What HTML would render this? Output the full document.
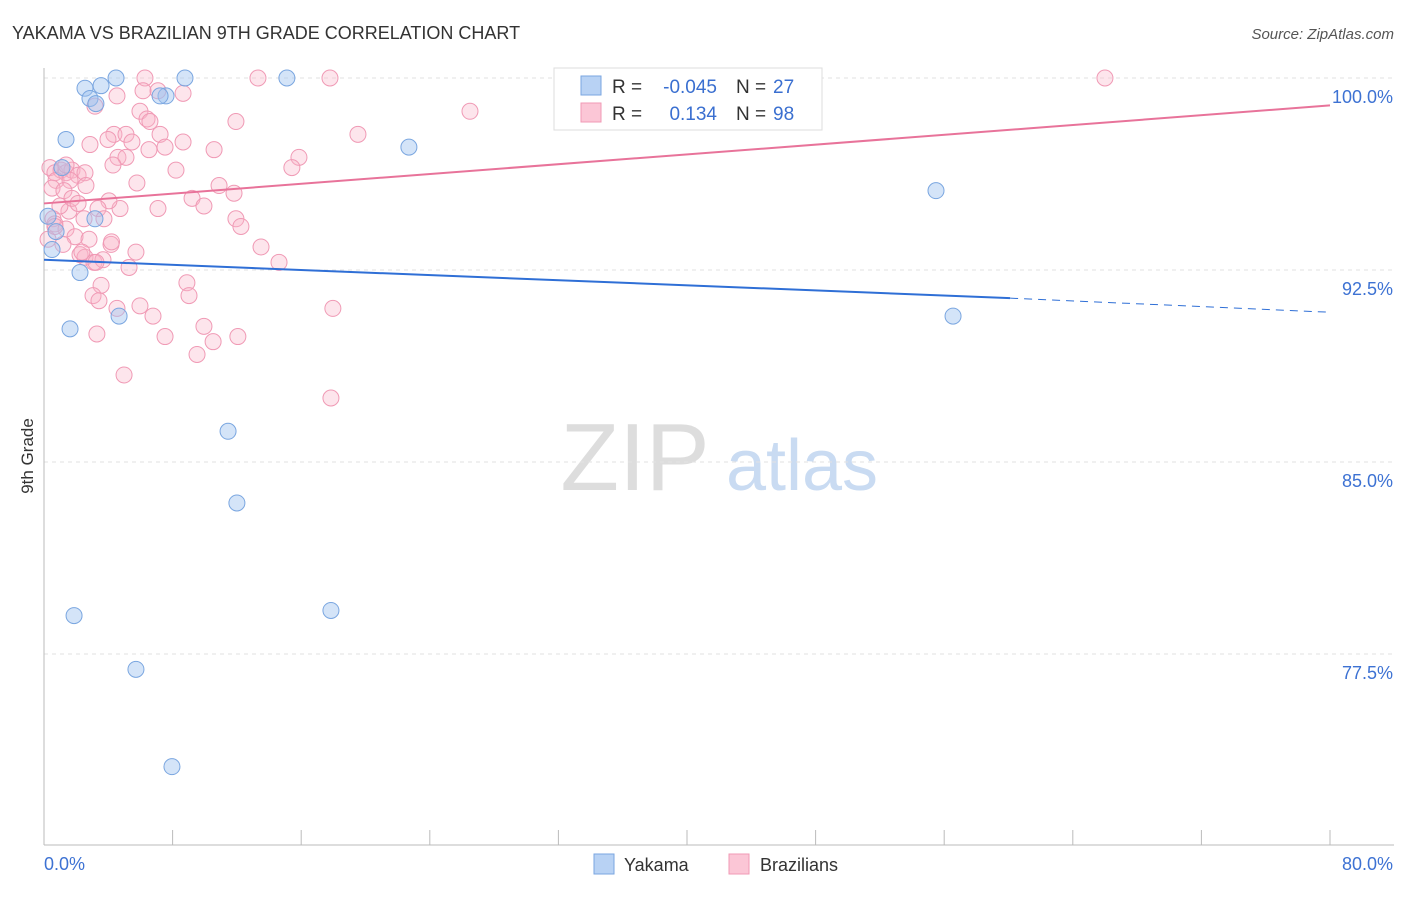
<!DOCTYPE html>
<html><head><meta charset="utf-8"><style>
body{margin:0;background:#fff;font-family:"Liberation Sans",sans-serif;}
svg text{font-family:"Liberation Sans",sans-serif;}
</style></head><body>
<svg id="chart" width="1406" height="892" xmlns="http://www.w3.org/2000/svg">
<text x="12" y="39" font-size="18" fill="#333">YAKAMA VS BRAZILIAN 9TH GRADE CORRELATION CHART</text>
<text x="1394" y="39" font-size="15" fill="#555" text-anchor="end" font-style="italic">Source: ZipAtlas.com</text>
<g>
<text x="635" y="490" font-size="96" fill="#ddd" text-anchor="middle" font-family="Liberation Serif">ZIP</text>
<text x="802" y="490" font-size="72" fill="#c9dbf2" text-anchor="middle">atlas</text>
</g>
<g id="grid"></g><g id="axes"></g><g id="pts"></g><g id="lines"></g>
<text transform="translate(33,456) rotate(-90)" font-size="17" fill="#333" text-anchor="middle">9th Grade</text>
<g>
<rect x="554" y="68" width="268" height="62" fill="#fff" stroke="#ddd"/>
<rect x="581" y="76" width="20" height="19" fill="#b8d2f4" stroke="#7aa6e0"/>
<rect x="581" y="103" width="20" height="19" fill="#fbc6d6" stroke="#f09ab5"/>
<text x="612" y="93" font-size="19" fill="#333">R =</text>
<text x="717" y="93" font-size="19" fill="#3a6fd0" text-anchor="end">-0.045</text>
<text x="736" y="93" font-size="19" fill="#333">N =</text>
<text x="773" y="93" font-size="19" fill="#3a6fd0">27</text>
<text x="612" y="120" font-size="19" fill="#333">R =</text>
<text x="717" y="120" font-size="19" fill="#3a6fd0" text-anchor="end">0.134</text>
<text x="736" y="120" font-size="19" fill="#333">N =</text>
<text x="773" y="120" font-size="19" fill="#3a6fd0">98</text>
</g>
<g>
<rect x="594" y="854" width="20" height="20" fill="#b8d2f4" stroke="#7aa6e0"/>
<text x="624" y="871" font-size="18" fill="#333">Yakama</text>
<rect x="729" y="854" width="20" height="20" fill="#fbc6d6" stroke="#f09ab5"/>
<text x="760" y="871" font-size="18" fill="#333">Brazilians</text>
</g>
</svg>
<script>
const yTicks=[100,92.5,85,77.5];
const yTickLabels=["100.0%","92.5%","85.0%","77.5%"];
const xTickLabels=["0.0%","80.0%"];
const yakX=[2.55,4.48,3.55,8.77,15.11,2.86,3.23,7.59,7.22,22.7,1.37,1.12,0.25,3.17,0.75,0.5,2.24,4.67,1.62,11.45,12.0,1.87,17.85,5.72,7.96,55.49,56.55];
const yakY=[99.6,100,99.7,100,100,99.2,99.0,99.3,99.3,97.3,97.6,96.5,94.6,94.5,94.0,93.3,92.4,90.7,90.2,86.2,83.4,79.0,79.2,76.9,73.1,95.6,90.7];
const brzX=[6.28,13.31,17.79,66.0,26.5,19.53,11.94,3.17,4.54,7.09,6.16,8.65,5.97,6.41,6.59,7.22,4.35,5.1,3.98,2.86,5.47,7.53,6.53,8.65,10.58,4.6,5.1,4.29,8.21,15.86,15.42,5.78,10.89,11.82,9.21,9.95,7.09,4.73,4.04,3.36,1.55,0.99,11.94,12.25,3.73,2.49,0.56,0.68,1.37,1.93,2.8,4.17,5.72,13.5,14.62,2.24,2.55,3.11,5.29,8.89,3.55,4.54,3.05,3.42,5.97,9.02,6.78,9.95,7.53,3.29,12.06,10.52,9.52,17.97,4.98,17.85,0.37,0.68,1.06,1.37,1.74,2.12,2.55,0.75,1.62,2.61,0.5,1.24,1.74,2.12,1.37,0.25,0.68,1.18,2.36,3.67,3.23,4.2];
const brzY=[100,100,100,100,98.7,97.8,98.3,98.9,99.3,99.5,99.5,99.4,98.7,98.4,98.3,97.8,97.8,97.8,97.6,97.4,97.5,97.3,97.2,97.5,97.2,96.9,96.9,96.6,96.4,96.9,96.5,95.9,95.8,95.5,95.3,95.0,94.9,94.9,95.2,94.9,94.8,95.0,94.5,94.2,94.5,94.5,94.5,94.3,94.1,93.8,93.7,93.5,93.2,93.4,92.8,93.1,93.0,92.8,92.6,92.0,91.9,91.0,91.5,91.3,91.1,91.5,90.7,90.3,89.9,90.0,89.9,89.7,89.2,91.0,88.4,87.5,96.5,96.3,96.4,96.3,96.4,96.2,96.3,96.0,96.0,95.8,95.7,95.6,95.3,95.1,96.6,93.7,94.2,93.5,93.2,92.9,92.8,93.6];
const yakTrend=[[0,92.9],[60.1,91.4],[80,90.85]];
const brzTrend=[[0,95.1],[80,98.93]];
const NS="http://www.w3.org/2000/svg";
const X=v=>44+v*16.075, Y=v=>78+(100-v)*25.6;
function mk(p,t,a){const e=document.createElementNS(NS,t);for(const k in a)e.setAttribute(k,a[k]);p.appendChild(e);return e;}
const g=document.getElementById('grid'),ax=document.getElementById('axes'),pts=document.getElementById('pts'),ln=document.getElementById('lines');
yTicks.forEach((t,i)=>{
 const l=mk(g,'line',{x1:44,x2:1394,y1:Y(t),y2:Y(t),stroke:'#e2e2e2','stroke-dasharray':'4,4'});
 
 
 const tx=mk(ax,'text',{x:1393,y:Y(t)+25,'font-size':18,fill:'#3d72d3','text-anchor':'end'});tx.textContent=yTickLabels[i];
 
 
});
const ya=mk(ax,'line',{x1:44,x2:44,y1:68,y2:845,stroke:'#bbb'});


const xa=mk(ax,'line',{x1:44,x2:1394,y1:845,y2:845,stroke:'#bbb'});


for(let i=0;i<=10;i++){const t=mk(ax,'line',{x1:X(i*8),x2:X(i*8),y1:830,y2:845,stroke:'#bbb'});
 
 }
[[0,'start'],[80,'end']].forEach((p,i)=>{const t=mk(ax,'text',{x:i?1393:44,y:870,'font-size':18,fill:'#3d72d3','text-anchor':p[1]});t.textContent=xTickLabels[i];
 
 });
brzX.forEach((v,i)=>{const c=mk(pts,'circle',{cx:X(v),cy:Y(brzY[i]),r:8,fill:'rgba(248,180,200,0.35)',stroke:'#f09ab5','stroke-width':1});
 
 });
yakX.forEach((v,i)=>{const c=mk(pts,'circle',{cx:X(v),cy:Y(yakY[i]),r:8,fill:'rgba(160,196,240,0.45)',stroke:'#7aa6e0','stroke-width':1});
 
 });
let a=mk(ln,'line',{x1:X(yakTrend[0][0]),y1:Y(yakTrend[0][1]),x2:X(yakTrend[1][0]),y2:Y(yakTrend[1][1]),stroke:'#2f6fd6','stroke-width':2});


a=mk(ln,'line',{x1:X(yakTrend[1][0]),y1:Y(yakTrend[1][1]),x2:X(yakTrend[2][0]),y2:Y(yakTrend[2][1]),stroke:'#2f6fd6','stroke-width':1,'stroke-dasharray':'8,6'});


a=mk(ln,'line',{x1:X(brzTrend[0][0]),y1:Y(brzTrend[0][1]),x2:X(brzTrend[1][0]),y2:Y(brzTrend[1][1]),stroke:'#e8739a','stroke-width':2});


</script>
</body></html>
